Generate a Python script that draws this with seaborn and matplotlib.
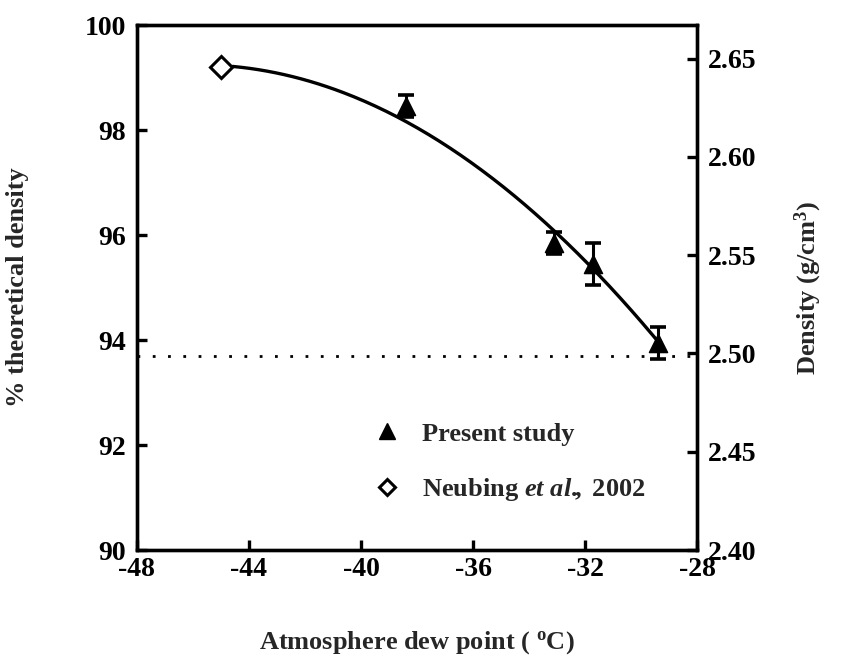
import numpy as np
import pandas as pd
import matplotlib
matplotlib.use("Agg")
import matplotlib.pyplot as plt
from matplotlib.lines import Line2D
import seaborn as sns

# ---- data ----
present_x = [-38.4, -33.1, -31.7, -29.4]
present_y = [98.46, 95.84, 95.45, 93.94]
present_err = [0.21, 0.21, 0.40, 0.30]
neubing_x = [-45.0]
neubing_y = [99.2]
# points
trend_x = [-44.58, -42.65, -40.87, -39.32, -37.89, -36.11, -34.32, -33.13, -31.70, -30.27, -29.44]
trend_y = [99.30, 99.00, 98.70, 98.35, 98.00, 97.40, 96.70, 96.16, 95.46, 94.44, 93.94]
threshold_pct = 93.7          # dotted line (2.50 g/cm3)
theoretical_density = 2.667   # g/cm3 at 100 %
x_ticks = [-48, -44, -40, -36, -32, -28]
left_ticks = [90, 92, 94, 96, 98, 100]
right_ticks = [2.40, 2.45, 2.50, 2.55, 2.60, 2.65]

sns.set_theme(style="ticks")
plt.rcParams["font.family"] = ["Liberation Serif", "DejaVu Serif"]
plt.rcParams["font.weight"] = "bold"
plt.rcParams["axes.labelweight"] = "bold"
plt.rcParams["mathtext.fontset"] = "custom"
plt.rcParams["mathtext.rm"] = "Liberation Serif:bold"
plt.rcParams["mathtext.it"] = "Liberation Serif:italic:bold"
plt.rcParams["mathtext.bf"] = "Liberation Serif:bold"

fig = plt.figure(figsize=(8.45, 6.67), dpi=100)
ax = fig.add_axes([0.162, 0.1754, 0.663, 0.787])

# smooth trend curve through the read curve points
coef = np.polyfit(trend_x, trend_y, 2)
xs = np.linspace(min(trend_x), max(trend_x), 200)
curve = pd.DataFrame({"x": xs, "y": np.polyval(coef, xs)})
sns.lineplot(data=curve, x="x", y="y", ax=ax, color="black", lw=2.4, zorder=2)

ax.axhline(threshold_pct, color="black", lw=2.0, ls=(0, (1, 4.5)), zorder=1)

ax.errorbar(present_x, present_y, yerr=present_err, fmt="none", ecolor="black",
            elinewidth=2.2, capsize=6, capthick=2.6, zorder=3)
sns.scatterplot(x=present_x, y=present_y, ax=ax, marker="^", s=170,
                color="black", edgecolor="black", zorder=4, legend=False)
ax.plot(neubing_x, neubing_y, ls="none", marker="D", ms=11, mfc="white",
        mec="black", mew=2.2, zorder=4)

ax.set_xlim(-48, -28)
ax.set_ylim(90, 100)
ax.set_xticks(x_ticks)
ax.set_yticks(left_ticks)
ax.set_xticklabels([str(t) for t in x_ticks])
ax.set_yticklabels([str(t) for t in left_ticks])

ax2 = ax.twinx()
ax2.set_ylim(90 / 100 * theoretical_density, 100 / 100 * theoretical_density)
ax2.set_yticks(right_ticks)
ax2.set_yticklabels([f"{t:.2f}" for t in right_ticks])

for a in (ax, ax2):
    for s in a.spines.values():
        s.set_linewidth(2.4)
        s.set_color("black")
ax.tick_params(axis="both", direction="in", length=7, width=2.4, labelsize=20,
               colors="black", pad=6)
ax.tick_params(axis="x", pad=5)
ax.tick_params(axis="y", pad=8)
ax2.tick_params(axis="y", direction="in", length=7, width=2.4, labelsize=20,
                colors="black", pad=8)

ax.set_xlabel(r"Atmosphere dew point ( $^{\mathrm{o}}$C)", fontsize=19, labelpad=34)
ax.set_ylabel("% theoretical density", fontsize=19, labelpad=40)
ax2.set_ylabel(r"Density (g/cm$^{\mathrm{3}}$)", fontsize=19, labelpad=26,
               rotation=90)

handles = [
    Line2D([], [], ls="none", marker="^", ms=12, mfc="black", mec="black"),
    Line2D([], [], ls="none", marker="D", ms=8.5, mfc="white", mec="black", mew=2.2),
]
labels = ["Present study", r"$\mathrm{Neubing}\ \mathit{et\ al.}\!\!\mathrm{,\ 2002}$"]
ax.legend(handles, labels, loc="upper left", bbox_to_anchor=(0.427, 0.387),
          bbox_transform=fig.transFigure, frameon=False, fontsize=19,
          handlelength=1.0, handletextpad=0.8, labelspacing=1.15, borderpad=0)

fig.savefig("out.png", dpi=100, facecolor="white")
